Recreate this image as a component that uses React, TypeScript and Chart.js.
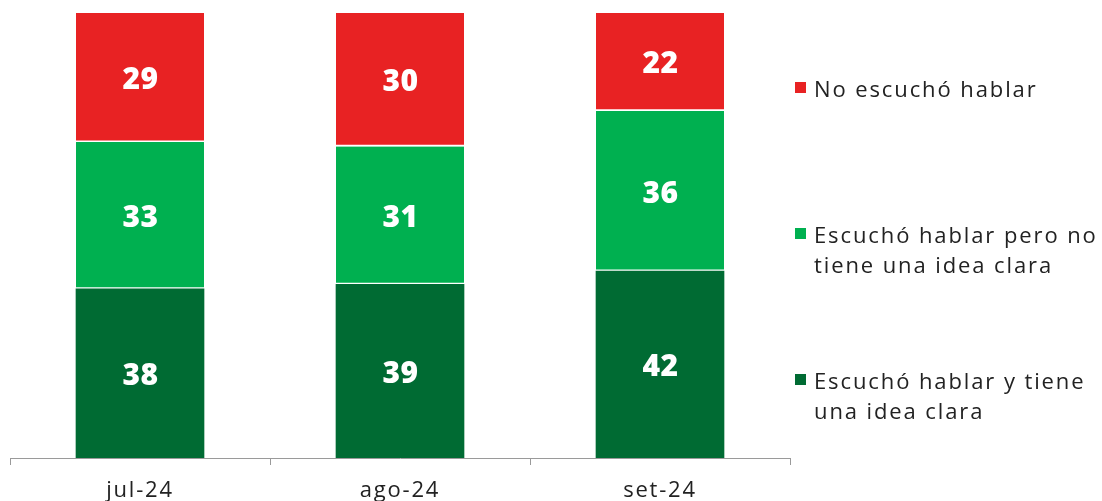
import React, { useEffect, useRef } from "react";
import { Chart, registerables } from "chart.js";

Chart.register(...registerables);

const categories = ["jul-24", "ago-24", "set-24"];
const noEscucho = [29, 30, 22];
const escuchoSinIdea = [33, 31, 36];
const escuchoConIdea = [38, 39, 42];

const seriesNames = [
  "No escuchó hablar",
  "Escuchó hablar pero no tiene una idea clara",
  "Escuchó hablar y tiene una idea clara",
];
const legendLines = [
  ["No escuchó hablar"],
  ["Escuchó hablar pero no", "tiene una idea clara"],
  ["Escuchó hablar y tiene", "una idea clara"],
];
const colors = ["#E82223", "#00B050", "#006B33"];
const FONT = "'Open Sans', 'DejaVu Sans', sans-serif";

const spacing = {
  id: "spacing",
  beforeDraw(chart: any) {
    chart.ctx.letterSpacing = "1.8px";
  },
};

const valueLabels = {
  id: "valueLabels",
  afterDatasetsDraw(chart: any) {
    const ctx = chart.ctx;
    ctx.save();
    ctx.letterSpacing = "0.5px";
    ctx.fillStyle = "#ffffff";
    ctx.font = `800 30px ${FONT}`;
    ctx.textAlign = "center";
    ctx.textBaseline = "middle";
    chart.data.datasets.forEach((ds: any, di: number) => {
      const meta = chart.getDatasetMeta(di);
      meta.data.forEach((bar: any, i: number) => {
        const { x, y, base } = bar.getProps(["x", "y", "base"], true);
        ctx.fillText(String(ds.data[i]), x + 0.5, (y + base) / 2 + 3);
      });
    });
    ctx.restore();
  },
};

export default function App() {
  const ref = useRef<HTMLCanvasElement>(null);
  useEffect(() => {
    document.body.style.margin = "0";
    const chart = new Chart(ref.current!, {
      type: "bar",
      data: {
        labels: categories,
        datasets: [
          { label: seriesNames[2], data: escuchoConIdea, backgroundColor: colors[2], bw: 0 },
          { label: seriesNames[1], data: escuchoSinIdea, backgroundColor: colors[1], bw: 2 },
          { label: seriesNames[0], data: noEscucho, backgroundColor: colors[0], bw: 2 },
        ].map(({ bw, ...d }) => ({
          ...d,
          barThickness: 128,
          borderColor: "#ffffff",
          borderWidth: { top: 0, left: 0, right: 0, bottom: bw },
          borderSkipped: false,
        })) as any,
      },
      options: {
        animation: false,
        responsive: false,
        maintainAspectRatio: false,
        layout: { padding: { left: 10, right: 10, top: 13, bottom: 0 } },
        plugins: { legend: { display: false }, tooltip: { enabled: false } },
        scales: {
          y: { stacked: true, display: false, min: 0, max: 100 },
          x: {
            stacked: true,
            offset: true,
            grid: {
              display: true,
              drawOnChartArea: false,
              offset: true,
              tickLength: 7,
              color: "#9a9a9a",
            },
            border: { display: true, color: "#9a9a9a", width: 1 },
            ticks: { color: "#222222", font: { size: 22, family: FONT }, padding: 13 },
            afterFit: (scale: any) => {
              scale.height = 43;
            },
          },
        },
      },
      plugins: [spacing, valueLabels],
    });
    return () => chart.destroy();
  }, []);

  const legendTops = [88, 234, 380];
  return (
    <div style={{ position: "relative", width: 1102, height: 501, overflow: "hidden", background: "#fff" }}>
      <canvas ref={ref} width={800} height={501} style={{ position: "absolute", left: 0, top: 0, width: 800, height: 501 }} />
      {legendLines.map((lines, i) => (
        <div key={i} style={{ position: "absolute", left: 795, top: legendTops[i] - 15, fontFamily: FONT, fontSize: 22, lineHeight: "30px", color: "#222", letterSpacing: "1.9px" }}>
          <span style={{ position: "absolute", left: 0, top: 9, width: 11, height: 11, background: colors[i] }} />
          {lines.map((l, j) => (
            <div key={j} style={{ paddingLeft: 19, whiteSpace: "nowrap" }}>{l}</div>
          ))}
        </div>
      ))}
    </div>
  );
}
